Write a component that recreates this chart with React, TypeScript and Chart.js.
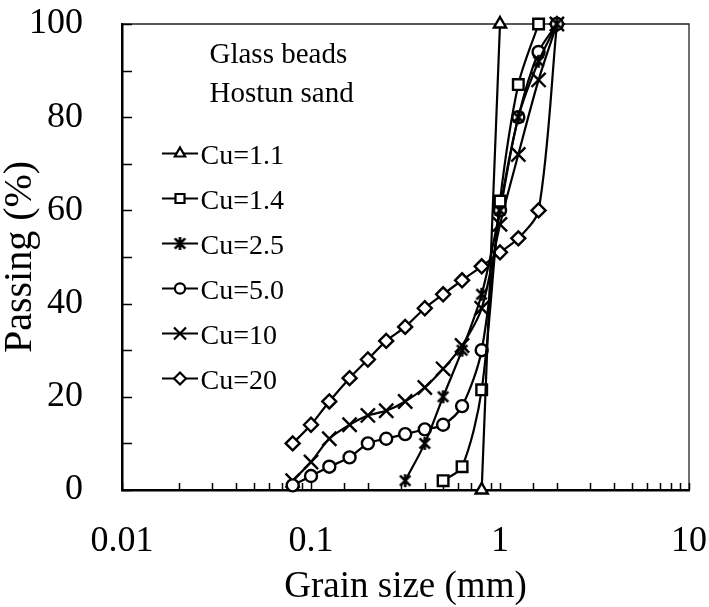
import React, { useEffect, useRef } from 'react';
import { Chart, registerables } from 'chart.js';
import { drawPoint } from 'chart.js/helpers';

Chart.register(...registerables);

// ---- data ----
const sieveSizes = [0.08, 0.1, 0.125, 0.16, 0.2, 0.25, 0.315, 0.4, 0.5, 0.63, 0.8, 1.0, 1.25, 1.6, 2.0];
const cu20Passing = [10, 14, 19, 24, 28, 32, 35, 39, 42, 45, 48, 51, 54, 60, 100];
const cu10Passing = [2, 6, 11, 14, 16, 17, 19, 22, 26, 31, 39, 57, 72, 88, 100];
const cu5Passing = [1, 3, 5, 7, 10, 11, 12, 13, 14, 18, 30, 60, 80, 94, 100];
const cu25Sizes = [0.315, 0.4, 0.5, 0.63, 0.8, 1.0, 1.25, 1.6, 2.0];
const cu25Passing = [2, 10, 20, 30, 42, 60, 80, 92, 100];
const cu14Sizes = [0.5, 0.63, 0.8, 1.0, 1.25, 1.6];
const cu14Passing = [2, 5, 21.5, 62, 87, 100];
const cu11Sizes = [0.8, 1.0];
const cu11Passing = [0, 100];
const seriesLabels = ['Cu=1.1', 'Cu=1.4', 'Cu=2.5', 'Cu=5.0', 'Cu=10', 'Cu=20'];
const xTickLabels = [0.01, 0.1, 1, 10];
const yTickLabels = [0, 20, 40, 60, 80, 100];
const noteLines = ['Glass beads', 'Hostun sand'];
const xTitle = 'Grain size (mm)';
const yTitle = 'Passing (%)';

const FONT = '"Liberation Serif", "Times New Roman", serif';

const pairs = (sizes: number[], vals: number[]) => sizes.map((s, i) => ({ x: s, y: vals[i] }));

function makeAsterisk(size: number, lw: number) {
  const c = document.createElement('canvas');
  c.width = size;
  c.height = size;
  const g = c.getContext('2d')!;
  g.strokeStyle = '#000';
  g.lineWidth = lw;
  const m = size / 2;
  const r = size / 2 - 1;
  const d = r * 0.8;
  g.beginPath();
  g.moveTo(m - d, m - d);
  g.lineTo(m + d, m + d);
  g.moveTo(m + d, m - d);
  g.lineTo(m - d, m + d);
  g.moveTo(m, m - r);
  g.lineTo(m, m + r);
  g.stroke();
  return c;
}

const frameAndTicks = {
  id: 'frameAndTicks',
  beforeDatasetsDraw(chart: any) {
    const { ctx, chartArea: a, scales } = chart;
    const x = scales.x;
    const y = scales.y;
    ctx.save();
    ctx.strokeStyle = '#222';
    ctx.lineWidth = 1.3;
    ctx.beginPath();
    ctx.moveTo(a.left, a.top);
    ctx.lineTo(a.right, a.top);
    ctx.lineTo(a.right, a.bottom);
    ctx.stroke();
    ctx.strokeStyle = '#000';
    ctx.lineWidth = 1.5;
    ctx.beginPath();
    x.ticks.forEach((t: any) => {
      const px = Math.round(x.getPixelForValue(t.value)) + 0.5;
      ctx.moveTo(px, a.bottom);
      ctx.lineTo(px, a.bottom - 7);
    });
    y.ticks.forEach((t: any) => {
      const py = Math.round(y.getPixelForValue(t.value)) + 0.5;
      ctx.moveTo(a.left, py);
      ctx.lineTo(a.left + 10, py);
    });
    ctx.stroke();
    ctx.restore();
  },
};

const noteLegend = {
  id: 'noteLegend',
  afterDraw(chart: any) {
    const { ctx, chartArea: a } = chart;
    ctx.save();
    ctx.fillStyle = '#000';
    ctx.textBaseline = 'alphabetic';
    ctx.textAlign = 'left';
    ctx.font = `29px ${FONT}`;
    ctx.fillText(noteLines[0], a.left + 87.5, a.top + 39);
    ctx.fillText(noteLines[1], a.left + 87.5, a.top + 78);
    ctx.font = `28px ${FONT}`;
    chart.data.datasets.forEach((ds: any, i: number) => {
      const cy = a.top + 129.5 + 45 * i;
      const x0 = a.left + 40;
      const x1 = a.left + 76;
      ctx.strokeStyle = '#000';
      ctx.lineWidth = 2.2;
      ctx.beginPath();
      ctx.moveTo(x0, cy);
      ctx.lineTo(x1, cy);
      ctx.stroke();
      ctx.fillStyle = '#fff';
      drawPoint(
        ctx,
        { pointStyle: ds.pointStyle, radius: ds.pointRadius * 0.85, borderWidth: 2.2, rotation: 0 } as any,
        (x0 + x1) / 2,
        cy
      );
      ctx.fillStyle = '#000';
      ctx.fillText(ds.label, x1 + 2.5, cy + 10);
    });
    ctx.restore();
  },
};

const zeroPad = (s: any) => {
  s.paddingTop = 0;
  s.paddingBottom = 0;
  s.paddingLeft = 0;
  s.paddingRight = 0;
};

export default function App() {
  const ref = useRef<HTMLCanvasElement>(null);
  useEffect(() => {
    document.body.style.margin = '0';
    const asterisk = makeAsterisk(15, 2.6);
    const common = {
      borderColor: '#000',
      borderWidth: 2.2,
      backgroundColor: '#fff',
      pointBackgroundColor: '#fff',
      pointBorderColor: '#000',
      pointBorderWidth: 2.4,
      tension: 0.3,
      clip: false as any,
    };
    const chart = new Chart(ref.current!, {
      type: 'line',
      data: {
        datasets: [
          { ...common, label: seriesLabels[0], data: pairs(cu11Sizes, cu11Passing), pointStyle: 'triangle', pointRadius: 7 },
          { ...common, label: seriesLabels[1], data: pairs(cu14Sizes, cu14Passing), pointStyle: 'rect', pointRadius: 7.5 },
          { ...common, label: seriesLabels[2], data: pairs(cu25Sizes, cu25Passing), pointStyle: asterisk as any, pointRadius: 7 },
          { ...common, label: seriesLabels[3], data: pairs(sieveSizes, cu5Passing), pointStyle: 'circle', pointRadius: 6 },
          { ...common, label: seriesLabels[4], data: pairs(sieveSizes, cu10Passing), pointStyle: 'crossRot', pointRadius: 10 },
          { ...common, label: seriesLabels[5], data: pairs(sieveSizes, cu20Passing), pointStyle: 'rectRot', pointRadius: 7 },
        ],
      },
      options: {
        responsive: false,
        animation: false,
        layout: { padding: { top: 24, right: 20, left: 0, bottom: 0 } },
        plugins: { legend: { display: false }, tooltip: { enabled: false } },
        scales: {
          x: {
            type: 'logarithmic',
            min: 0.01,
            max: 10,
            grid: { display: false },
            border: { display: true, color: '#000', width: 2.5 },
            afterFit: (s: any) => {
              s.height = 117;
              zeroPad(s);
            },
            ticks: {
              autoSkip: false,
              maxRotation: 0,
              minRotation: 0,
              padding: 22,
              color: '#000',
              font: { family: FONT, size: 36 },
              callback: (v: any) => {
                const hit = xTickLabels.find((l) => Math.abs(Math.log10(Number(v)) - Math.log10(l)) < 1e-6);
                return hit !== undefined ? String(hit) : '';
              },
            },
            title: {
              display: true,
              text: xTitle,
              color: '#000',
              font: { family: FONT, size: 37 },
              padding: { top: 0, bottom: -2 },
            },
          },
          y: {
            type: 'linear',
            min: 0,
            max: 100,
            grid: { display: false },
            border: { display: true, color: '#000', width: 2.5 },
            afterFit: (s: any) => {
              s.width = 122;
              zeroPad(s);
            },
            ticks: {
              stepSize: 10,
              autoSkip: false,
              padding: 31,
              color: '#000',
              font: { family: FONT, size: 36 },
              callback: (v: any) => (yTickLabels.includes(Number(v)) ? String(v) : ''),
            },
            title: {
              display: true,
              text: yTitle,
              color: '#000',
              font: { family: FONT, size: 40 },
              padding: { top: -4, bottom: 0 },
            },
          },
        },
      },
      plugins: [frameAndTicks, noteLegend],
    });
    return () => chart.destroy();
  }, []);
  return (
    <div style={{ width: 709, height: 607 }}>
      <canvas ref={ref} width={709} height={607} style={{ width: 709, height: 607, display: 'block' }} />
    </div>
  );
}
